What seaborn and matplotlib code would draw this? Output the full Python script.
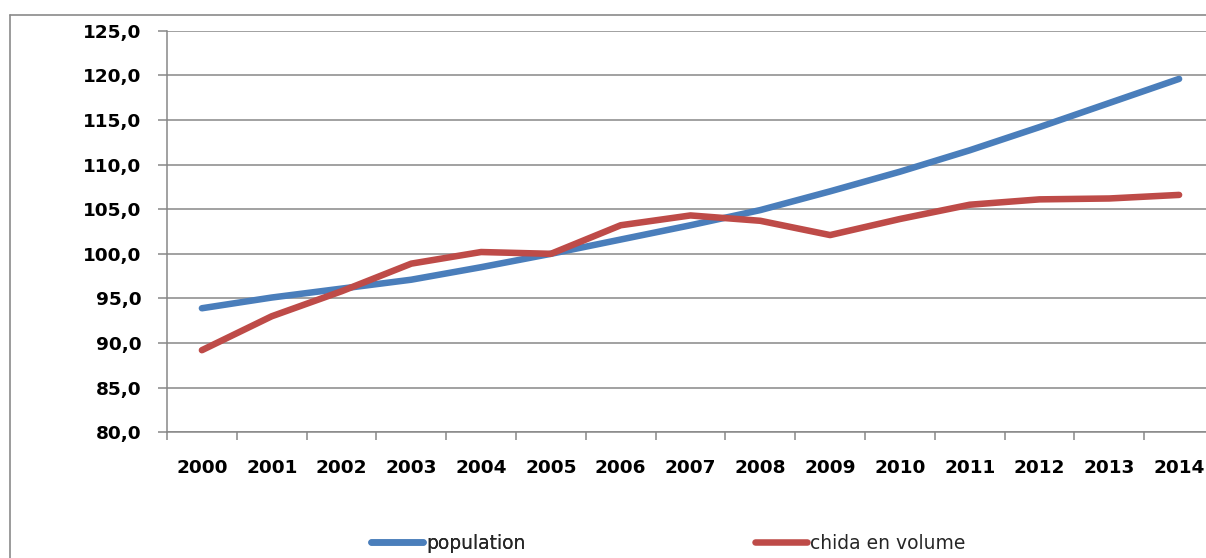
import matplotlib
matplotlib.use("Agg")
import matplotlib.pyplot as plt
from matplotlib.lines import Line2D
import seaborn as sns
import pandas as pd

# Index values, 2005 = 100
years = list(range(2000, 2015))
population = [93.9, 95.1, 96.1, 97.1, 98.5, 100.0, 101.6, 103.2, 104.9,
              107.0, 109.2, 111.6, 114.2, 116.9, 119.6]
chida_volume = [89.2, 93.0, 95.8, 98.9, 100.2, 100.0, 103.2, 104.3, 103.7,
                102.1, 103.9, 105.5, 106.1, 106.2, 106.6]
series_names = ["population", "chida en volume"]
y_ticks = [80, 85, 90, 95, 100, 105, 110, 115, 120, 125]
y_tick_labels = ["80,0", "85,0", "90,0", "95,0", "100,0", "105,0",
                 "110,0", "115,0", "120,0", "125,0"]

df = pd.DataFrame({
    "year": years * 2,
    "value": population + chida_volume,
    "series": [series_names[0]] * len(years) + [series_names[1]] * len(years),
})

sns.set_theme(style="white")
plt.rcParams["font.family"] = ["DejaVu Sans"]

W, H = 1206, 558
fig = plt.figure(figsize=(W / 100, H / 100), dpi=100)
fig.patch.set_facecolor("white")

grey = "#878787"

# chart frame: left and top edges (the rest lies outside the canvas)
frame_x = 10 / W
frame_y = (H - 14.5) / H
fig.add_artist(Line2D([frame_x, frame_x], [0, frame_y], transform=fig.transFigure,
                      color="#8a8a8a", linewidth=1.2))
fig.add_artist(Line2D([frame_x, 1.0], [frame_y, frame_y], transform=fig.transFigure,
                      color="#8a8a8a", linewidth=1.2))

ax = fig.add_axes([167 / W, (H - 432.3) / H, 1047 / W, 401.6 / H])
ax.set_facecolor("none")

palette = {series_names[0]: "#4A7EBB", series_names[1]: "#BE4B48"}
sns.lineplot(data=df, x="year", y="value", hue="series", palette=palette,
             ax=ax, linewidth=4.7, solid_capstyle="round",
             solid_joinstyle="round", zorder=3)

ax.set_xlim(years[0] - 0.5, years[-1] + 0.5)
ax.set_ylim(y_ticks[0], y_ticks[-1])
ax.set_xlabel("")
ax.set_ylabel("")

ax.set_yticks(y_ticks)
ax.set_yticklabels(y_tick_labels)
ax.set_xticks(years)
ax.set_xticklabels([str(y) for y in years])
ax.set_xticks([y - 0.5 for y in years] + [years[-1] + 0.5], minor=True)

ax.yaxis.grid(True, color=grey, linewidth=1.1)
ax.xaxis.grid(False)
ax.set_axisbelow(True)

for side in ["top", "right"]:
    ax.spines[side].set_visible(False)
for side in ["left", "bottom"]:
    ax.spines[side].set_visible(True)
    ax.spines[side].set_color(grey)
    ax.spines[side].set_linewidth(1.1)

ax.tick_params(axis="y", which="major", left=True, length=6.5, width=1.1,
               color=grey, pad=12, labelsize=13.3, labelcolor="black")
ax.tick_params(axis="x", which="major", bottom=False, length=0, pad=19,
               labelsize=13.3, labelcolor="black")
ax.tick_params(axis="x", which="minor", bottom=True, length=6, width=1.1,
               color=grey)
for lbl in ax.get_xticklabels() + ax.get_yticklabels():
    lbl.set_fontweight("bold")

handles, labels = ax.get_legend_handles_labels()
ax.get_legend().remove()

ly = (H - 543.3) / H
leg1 = fig.legend([handles[0]], [labels[0]], loc="center left",
                  bbox_to_anchor=(362 / W, ly), frameon=False,
                  handlelength=2.75, handletextpad=0.15, borderpad=0,
                  fontsize=13.5)
fig.add_artist(leg1)
fig.legend([handles[1]], [labels[1]], loc="center left",
           bbox_to_anchor=(746 / W, ly), frameon=False,
           handlelength=2.75, handletextpad=0.15, borderpad=0,
           fontsize=13.5)

fig.savefig("out.png", dpi=100)
